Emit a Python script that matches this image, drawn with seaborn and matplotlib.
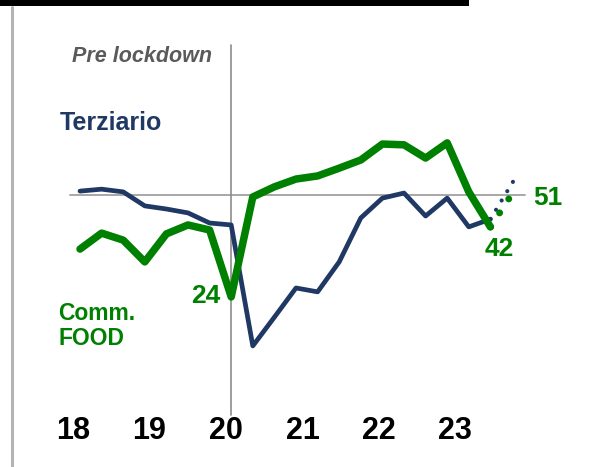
import pandas as pd
import matplotlib.pyplot as plt
import seaborn as sns
from matplotlib.patches import Rectangle
from matplotlib.lines import Line2D

sns.set_theme(style="white")
plt.rcParams["font.family"] = ["Liberation Sans", "DejaVu Sans"]

NAVY = "#1f3864"
GREEN = "#008000"
GRIGIO = "#8c8c8c"

# --- DATI (trimestri 2018Q1 .. 2022Q4) ---
trimestri = list(range(20))
terziario = [51.0, 51.5, 50.8, 47.2, 46.4, 45.4, 42.8, 42.3, 11.2, 18.6,
             26.1, 25.1, 32.8, 44.1, 49.2, 50.5, 44.6, 49.2, 41.8, 43.8]
comm_food = [36.1, 40.2, 38.4, 32.8, 40.0, 42.3, 41.0, 23.8, 49.5, 52.1,
             54.1, 54.9, 56.9, 59.0, 63.1, 62.9, 59.5, 63.4, 50.8, 41.8]

# proiezioni puntinate
terziario_proj_x = [19, 20.1]
terziario_proj = [43.8, 53.9]
food_proj_x = [19, 19.85]
food_proj = [41.8, 49.0]

anni = ["18", "19", "20", "21", "22", "23"]
lockdown_q = 7
soglia = 50

df = pd.DataFrame({"q": trimestri, "Terziario": terziario, "Comm. FOOD": comm_food})

# --- FIGURA ---
W, H = 589, 467
fig = plt.figure(figsize=(W / 100, H / 100), dpi=100)
ax = fig.add_axes([0, 0, 1, 1])
ax.set_xlim(-80 / 21.6, 509 / 21.6)
ax.set_ylim(50 - 272 / 3.89, 50 + 195 / 3.89)
ax.set_axis_off()

# linee di riferimento
ax.axhline(soglia, xmin=70 / W, xmax=525 / W, color="#a0a0a0", lw=1.3, zorder=1)
ax.axvline(lockdown_q, ymin=(H - 415) / H, ymax=(H - 45) / H, color=GRIGIO, lw=1.2, zorder=1)

sns.lineplot(data=df, x="q", y="Terziario", color=NAVY, lw=3.4, ax=ax, zorder=3)
sns.lineplot(data=df, x="q", y="Comm. FOOD", color=GREEN, lw=5.4, ax=ax, zorder=4)

ax.plot(terziario_proj_x, terziario_proj, color=NAVY, lw=3.0,
        linestyle=(0, (0.01, 2.6)), dash_capstyle="round", zorder=3)
ax.plot(food_proj_x, food_proj, color=GREEN, lw=5.0,
        linestyle=(0, (0.01, 2.4)), dash_capstyle="round", zorder=4)


def ft(x, y, s, **kw):
    # testo in pixel (origine in alto a sinistra)
    fig.text(x / W, 1 - y / H, s, **kw)


# etichette anni
for k, a in enumerate(anni):
    ax.text(-0.32 + k * 3.54, 50 - (431 - 195) / 3.89, a, ha="center", va="center",
            fontsize=22, fontweight="bold", color="black")

ft(212, 57, "Pre lockdown", ha="right", va="center", fontsize=15.5,
   fontstyle="italic", fontweight="bold", color="#5a5a5a")
ft(60, 123, "Terziario", ha="left", va="center", fontsize=18,
   fontweight="bold", color=NAVY)
ft(58, 326, "Comm.\nFOOD", ha="left", va="center", fontsize=16.5,
   fontweight="bold", color=GREEN, linespacing=1.15)
ft(220, 296, "24", ha="right", va="center", fontsize=19, fontweight="bold", color=GREEN)
ft(499, 249, "42", ha="center", va="center", fontsize=19, fontweight="bold", color=GREEN)
ft(533, 198, "51", ha="left", va="center", fontsize=19, fontweight="bold", color=GREEN)

# barra nera in alto e bordo grigio a sinistra
fig.add_artist(Rectangle((0, 1 - 6 / H), 469 / W, 6 / H, transform=fig.transFigure,
                         color="black", lw=0))
fig.add_artist(Line2D([12 / W, 12 / W], [0, 1 - 7 / H], transform=fig.transFigure,
                      color="#b4b4b4", lw=2.2))

fig.savefig("out.png", dpi=100)
